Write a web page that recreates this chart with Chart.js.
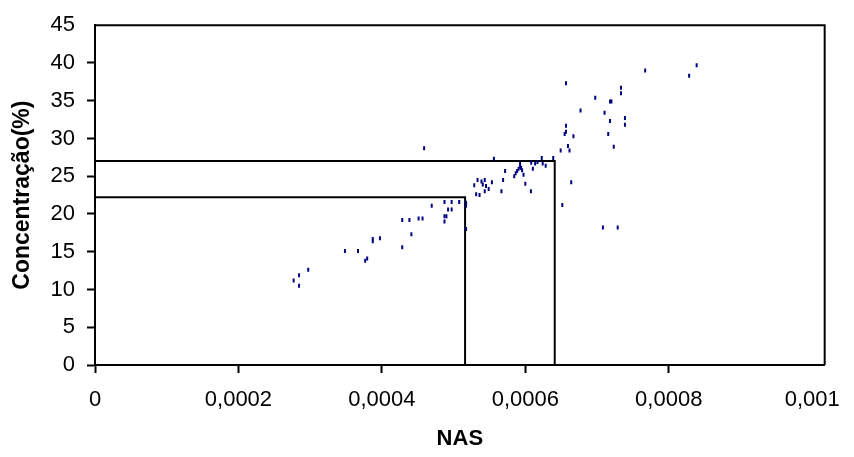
<!DOCTYPE html>
<html>
<head>
<meta charset="utf-8">
<title>Concentração x NAS</title>
<script src="https://cdn.jsdelivr.net/npm/chart.js@4.4.1/dist/chart.umd.min.js"></script>
<style>
    body { margin: 0; background: #fff; }
    #chart-box { width: 854px; height: 457px; position: relative; }
</style>
</head>
<body>
<div id="chart-box"><canvas id="chart"></canvas></div>
<script>
// NAS values (x) and concentration in % (y)
const nasValues = [
    0.000277, 0.0002845, 0.0002845, 0.0002973, 0.0003485, 0.0003667, 0.0003767, 0.0003795,
    0.0003873, 0.0003873, 0.0003973, 0.0004284, 0.0004384, 0.0004284, 0.0004411, 0.0004512,
    0.0004567, 0.0004589, 0.0004695, 0.0004873, 0.0004973, 0.0005078, 0.0004923, 0.0004973,
    0.0004873, 0.00049, 0.0004873, 0.0005174, 0.0005174, 0.0005174, 0.0005315, 0.0005362,
    0.0005334, 0.0005389, 0.0005434, 0.0005288, 0.0005407, 0.0005452, 0.0005489, 0.0005434,
    0.0005534, 0.0005562, 0.0005667, 0.000569, 0.0005718, 0.0005845, 0.0005866, 0.0005886,
    0.0005907, 0.0005927, 0.0005927, 0.0005955, 0.0005975, 0.0005941, 0.0006, 0.0006078,
    0.0006105, 0.0006082, 0.0006137, 0.000617, 0.0006229, 0.0006242, 0.0006284, 0.0006389,
    0.0006493, 0.0006595, 0.0006616, 0.000664, 0.0006516, 0.0006567, 0.0006548, 0.0006567,
    0.0006671, 0.000677, 0.0006975, 0.0006567, 0.0007105, 0.0007181, 0.0007201, 0.0007181,
    0.0007156, 0.0007233, 0.0007334, 0.0007334, 0.0007389, 0.0007389, 0.0007671, 0.0008284,
    0.0008389, 0.0007082, 0.0007288
];
const concValues = [
    11.2, 11.9, 10.5, 12.6, 15.1, 15.1, 13.8, 14.1,
    16.7, 16.4, 16.8, 19.2, 19.2, 15.6, 17.3, 19.4,
    19.4, 28.7, 21.1, 21.6, 21.6, 21.6, 20.6, 20.6,
    19.7, 19.7, 19.0, 21.5, 21.1, 18.0, 22.6, 22.5,
    24.5, 24.3, 24.5, 23.8, 23.9, 23.7, 23.3, 23.0,
    24.2, 27.3, 23.0, 24.5, 25.7, 25.0, 25.4, 25.7,
    26.0, 26.3, 26.7, 25.8, 25.2, 26.1, 24.0, 23.0,
    26.0, 26.8, 26.7, 26.9, 27.4, 26.7, 26.4, 27.4,
    28.4, 29.0, 28.4, 24.2, 21.2, 31.7, 30.6, 30.9,
    30.3, 33.7, 35.4, 37.3, 33.4, 34.9, 34.9, 32.3,
    30.6, 28.9, 36.7, 36.0, 32.7, 31.8, 39.0, 38.3,
    39.7, 18.2, 18.2
];

// reading guides: concentration level and the NAS where it meets the axis
const guideConc = [22.2, 27.0];
const guideNas = [0.000516, 0.000641];

const xTicks = [0, 0.0002, 0.0004, 0.0006, 0.0008, 0.001];
const yTicks = [0, 5, 10, 15, 20, 25, 30, 35, 40, 45];

const points = nasValues.map((x, i) => ({ x: x, y: concValues[i] }));

function guideLine(i) {
    return {
        type: 'line',
        data: [
            { x: 0, y: guideConc[i] },
            { x: guideNas[i], y: guideConc[i] },
            { x: guideNas[i], y: 0 }
        ],
        borderColor: '#000',
        borderWidth: 2,
        pointRadius: 0,
        fill: false,
        tension: 0,
        order: 2
    };
}

function formatTick(v) {
    if (v === 0) return '0';
    return String(Number(v.toPrecision(6))).replace('.', ',');
}

// top and right edges of the plot area
const plotFrame = {
    id: 'plotFrame',
    afterDraw(chart) {
        const { ctx, chartArea: a } = chart;
        ctx.save();
        ctx.strokeStyle = '#000';
        ctx.lineWidth = 2;
        ctx.beginPath();
        ctx.moveTo(a.left, a.top);
        ctx.lineTo(a.right, a.top);
        ctx.lineTo(a.right, a.bottom);
        ctx.stroke();
        ctx.restore();
    }
};

const fontFamily = 'Liberation Sans, Arial, sans-serif';
const tickFont = { family: fontFamily, size: 22 };

new Chart(document.getElementById('chart'), {
    type: 'scatter',
    data: {
        datasets: [
            {
                label: 'Concentração',
                data: points,
                pointStyle: 'line',
                rotation: 90,
                radius: 2,
                borderWidth: 2,
                borderColor: '#000080',
                backgroundColor: '#000080',
                order: 1
            },
            guideLine(0),
            guideLine(1)
        ]
    },
    options: {
        responsive: true,
        maintainAspectRatio: false,
        devicePixelRatio: 1,
        animation: false,
        layout: { padding: { top: 20, right: 16, left: 0, bottom: 0 } },
        plugins: {
            legend: { display: false },
            tooltip: { enabled: false }
        },
        scales: {
            x: {
                type: 'linear',
                min: 0,
                max: 0.0010174,
                afterFit: s => { s.height = 92; },
                afterBuildTicks: s => { s.ticks = xTicks.map(v => ({ value: v })); },
                ticks: {
                    font: tickFont,
                    color: '#000',
                    padding: 14,
                    maxRotation: 0,
                    autoSkip: false,
                    callback: v => formatTick(v)
                },
                grid: {
                    drawOnChartArea: false,
                    tickLength: 8,
                    tickWidth: 2,
                    tickColor: c => (c.tick && c.tick.value >= 0.00099 ? 'rgba(0,0,0,0)' : '#000')
                },
                border: { display: true, color: '#000', width: 2 },
                title: {
                    display: true,
                    text: 'NAS',
                    font: { family: fontFamily, size: 22, weight: 'bold' },
                    color: '#000',
                    padding: { top: 0, bottom: 5 }
                }
            },
            y: {
                type: 'linear',
                min: 0,
                max: 45,
                afterFit: s => { s.width = 95; },
                afterBuildTicks: s => { s.ticks = yTicks.map(v => ({ value: v })); },
                ticks: {
                    font: tickFont,
                    color: '#000',
                    padding: 12,
                    autoSkip: false,
                    callback: v => formatTick(v)
                },
                grid: {
                    drawOnChartArea: false,
                    tickLength: 8,
                    tickWidth: 2,
                    tickColor: c => (c.tick && c.tick.value >= 45 ? 'rgba(0,0,0,0)' : '#000')
                },
                border: { display: true, color: '#000', width: 2 },
                title: {
                    display: true,
                    text: 'Concentração(%)',
                    font: { family: fontFamily, size: 23, weight: 'bold' },
                    color: '#000',
                    padding: { top: 9, bottom: 0 }
                }
            }
        }
    },
    plugins: [plotFrame]
});
</script>
</body>
</html>
